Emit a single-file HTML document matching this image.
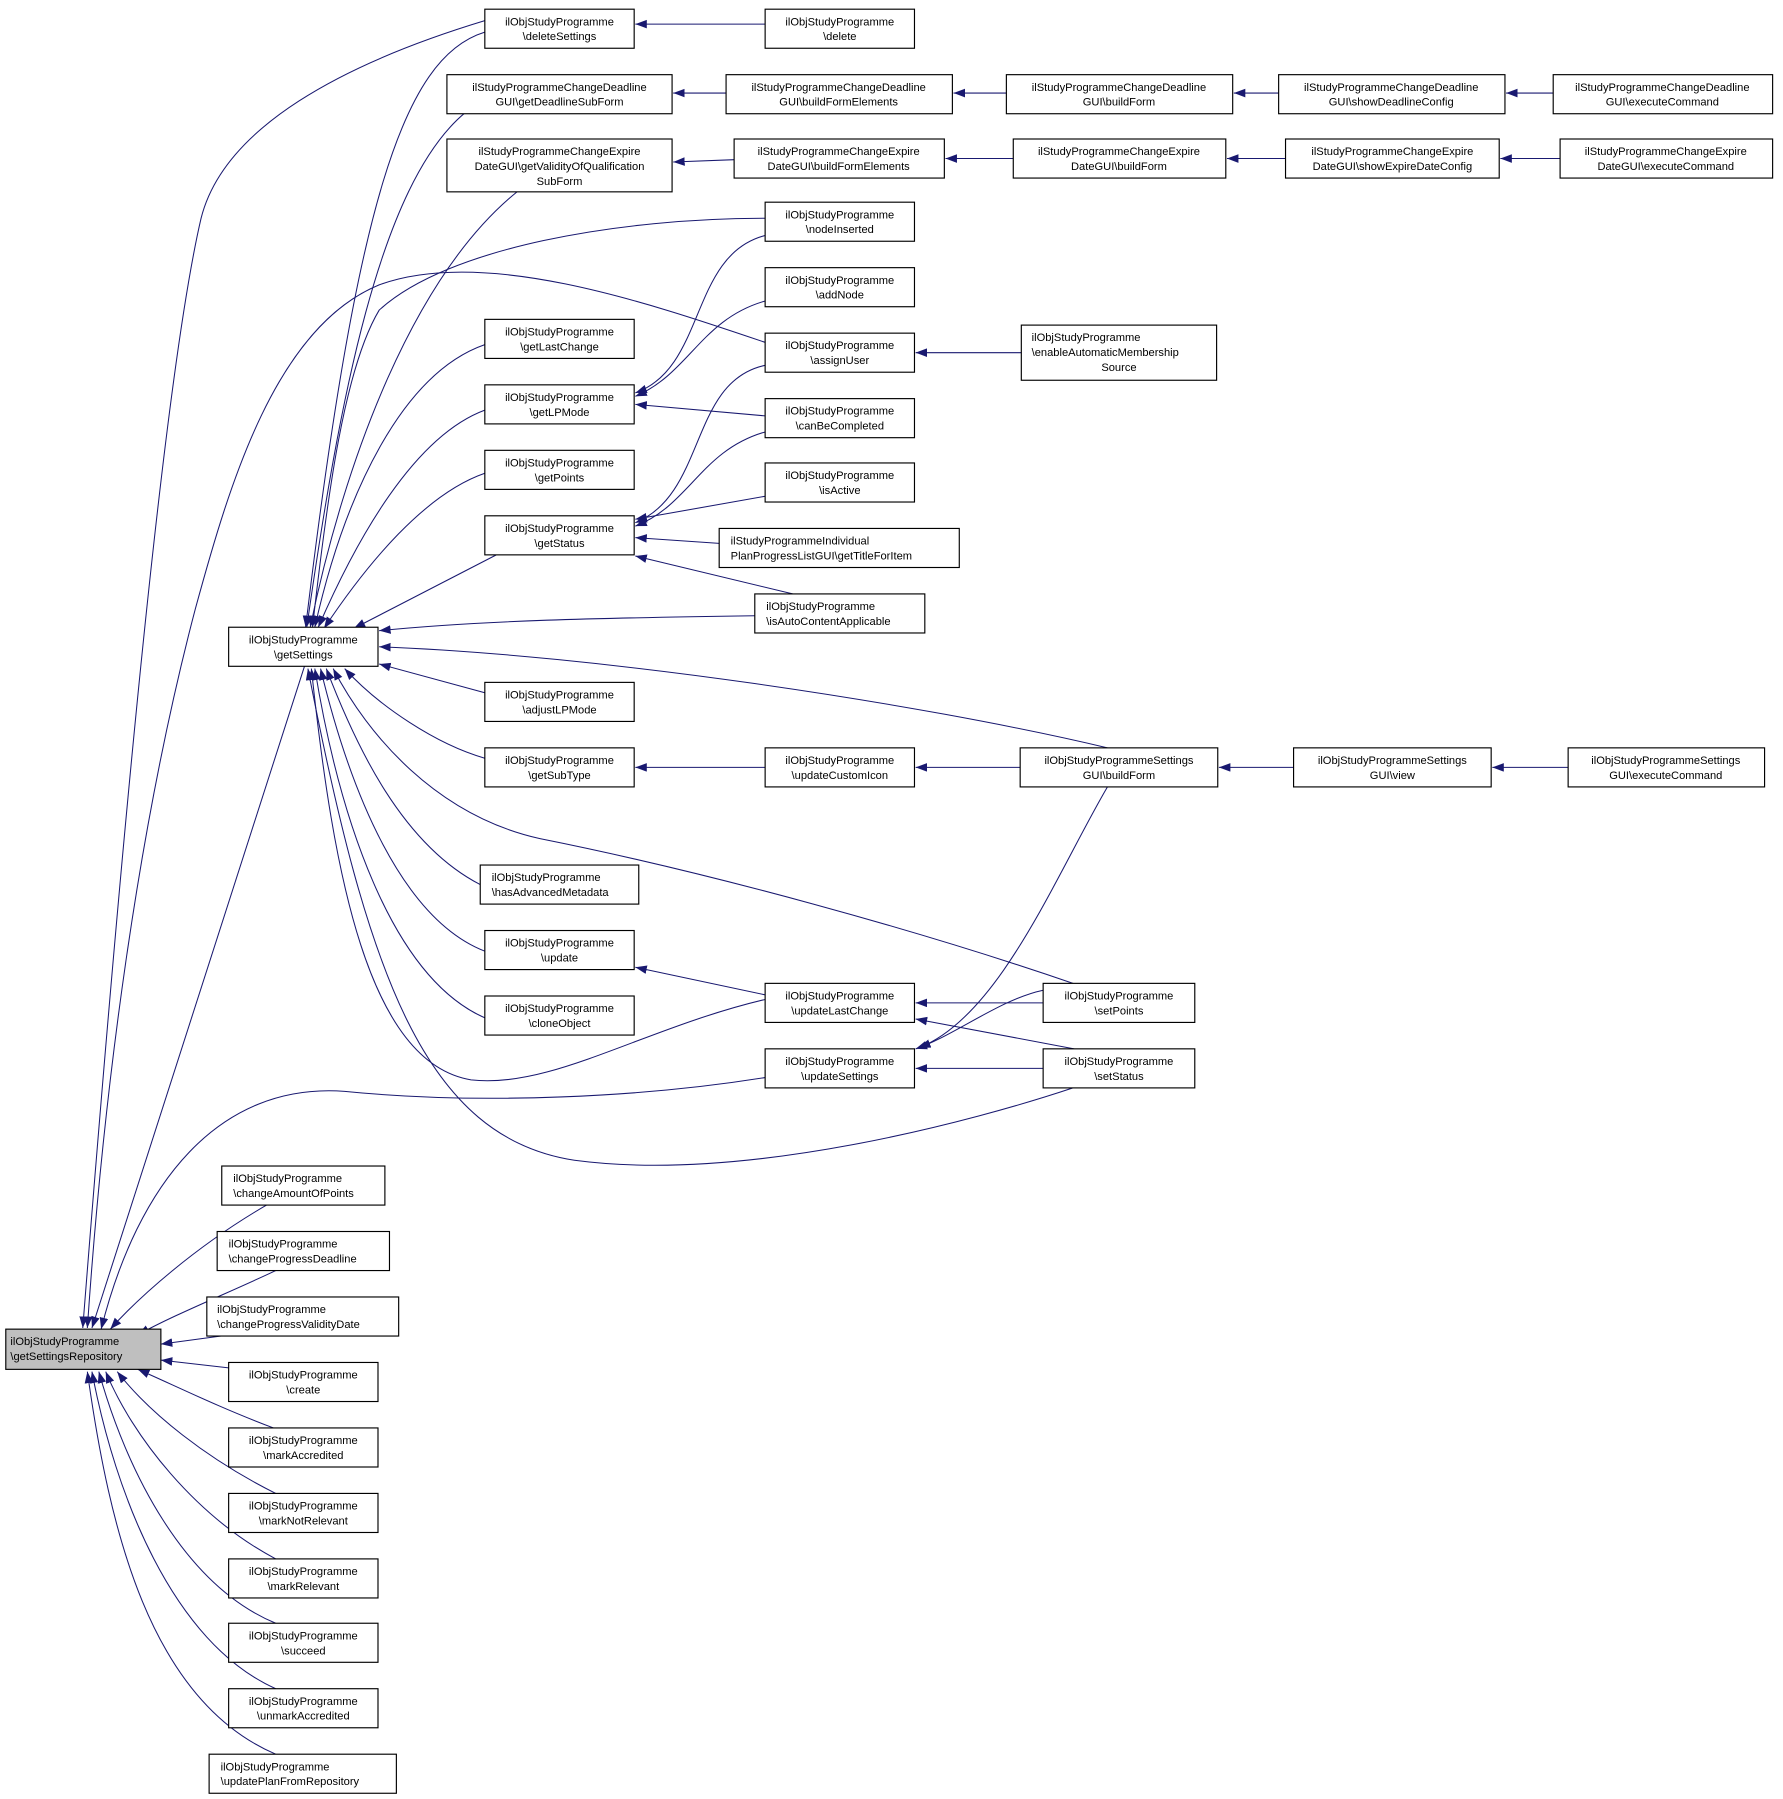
<!DOCTYPE html>
<html><head><meta charset="utf-8"><style>
html,body{margin:0;padding:0;background:#fff;}
svg{display:block;}
text{font-family:"Liberation Sans",sans-serif;font-size:9.7px;fill:#000;}
.b{fill:#fff;stroke:#000;stroke-width:1;}
.e{fill:none;stroke:#191970;stroke-width:0.9;}
</style></head><body>
<svg width="1783" height="1799" viewBox="0 0 1552 1566" xmlns="http://www.w3.org/2000/svg">
<defs><marker id="a" markerUnits="userSpaceOnUse" markerWidth="11" markerHeight="8" refX="10" refY="3.75" orient="auto"><path d="M0,0 L10,3.75 L0,7.5 z" fill="#191970"/></marker></defs>
<g class="e" marker-end="url(#a)">
<!-- to getSettingsRepository -->
<path d="M422,18 C300,55 195,110 175,190 C140,340 100,800 72,1156"/>
<path d="M666,298 C560,262 420,215 330,248 C240,285 200,420 170,530 C120,720 90,950 76,1156"/>
<path d="M265,580 L80,1156"/>
<path d="M666,938 C560,955 420,962 300,950 C190,942 120,1030 88,1157"/>
<path d="M232,1049 C170,1085 120,1130 96,1157"/>
<path d="M240,1106 C200,1125 150,1145 120,1162"/>
<path d="M207,1161 L140,1170"/>
<path d="M228,1194 L140,1184"/>
<path d="M238,1243 C190,1225 150,1205 120,1192"/>
<path d="M240,1300 C180,1270 130,1230 102,1194"/>
<path d="M240,1357 C170,1320 115,1250 92,1194"/>
<path d="M240,1413 C160,1380 110,1280 86,1194"/>
<path d="M240,1470 C150,1430 100,1300 80,1194"/>
<path d="M240,1527 C130,1480 95,1330 76,1194"/>
<!-- to getSettings -->
<path d="M422,28 C350,50 310,180 266,546"/>
<path d="M405,98 C330,160 295,350 267,546"/>
<path d="M450,167 C360,240 300,400 270,546"/>
<path d="M666,190 C540,190 390,215 330,270 C300,320 285,430 272,546"/>
<path d="M422,300 C350,325 300,430 274,546"/>
<path d="M422,357 C360,380 310,470 277,546"/>
<path d="M422,412 C370,430 320,490 282,547"/>
<path d="M432,483 L308,547"/>
<path d="M657,536 C520,538 420,540 330,549"/>
<path d="M964,651 C800,612 520,570 330,563"/>
<path d="M422,603 L330,578"/>
<path d="M422,660 C380,648 330,615 300,582"/>
<path d="M934,856 C800,810 620,760 470,730 C380,710 320,640 290,582"/>
<path d="M418,770 C350,735 310,650 284,582"/>
<path d="M422,828 C350,800 305,690 279,582"/>
<path d="M422,886 C340,850 295,710 274,582"/>
<path d="M666,870 C560,895 480,948 410,940 C320,925 290,760 271,582"/>
<path d="M934,947 C850,975 650,1030 500,1010 C370,990 320,850 268,582"/>
<!-- getLPMode -->
<path d="M666,205 C600,222 615,320 553,342"/>
<path d="M666,262 C610,278 600,325 553,345"/>
<path d="M666,362 L553,352"/>
<!-- getStatus -->
<path d="M666,318 C600,332 615,430 553,455"/>
<path d="M666,376 C610,392 600,440 553,458"/>
<path d="M666,432 L553,452"/>
<path d="M626,473 L553,468"/>
<path d="M690,517 L553,484"/>
<!-- others -->
<path d="M889,307 L797,307"/>
<path d="M666,21 L553,21"/>
<path d="M632,81 L586,81"/>
<path d="M876,81 L830,81"/>
<path d="M1113,81 L1074,81"/>
<path d="M1352,81 L1311,81"/>
<path d="M639,139 L586,141"/>
<path d="M882,138 L823,138"/>
<path d="M1119,138 L1068,138"/>
<path d="M1358,138 L1306,138"/>
<path d="M666,668 L553,668"/>
<path d="M888,668 L797,668"/>
<path d="M1126,668 L1061,668"/>
<path d="M1365,668 L1299,668"/>
<path d="M666,866 L553,842"/>
<path d="M908,873 L797,873"/>
<path d="M935,913 L797,887"/>
<path d="M908,862 C870,870 830,902 797,913"/>
<path d="M908,930 L797,930"/>
<path d="M964,685 C920,760 870,885 800,912"/>
</g>
<g>
<rect x="5" y="1157" width="135" height="35" fill="#bfbfbf" stroke="#000"/>
<text x="9" y="1171">ilObjStudyProgramme</text><text x="9" y="1184">\getSettingsRepository</text>

<rect class="b" x="199" y="546" width="130" height="34"/><text x="264" y="560" text-anchor="middle">ilObjStudyProgramme</text><text x="264" y="573" text-anchor="middle">\getSettings</text>

<rect class="b" x="193" y="1015" width="142" height="34"/><text x="203" y="1029">ilObjStudyProgramme</text><text x="203" y="1042">\changeAmountOfPoints</text>
<rect class="b" x="189" y="1072" width="150" height="34"/><text x="199" y="1086">ilObjStudyProgramme</text><text x="199" y="1099">\changeProgressDeadline</text>
<rect class="b" x="180" y="1129" width="167" height="34"/><text x="189" y="1143">ilObjStudyProgramme</text><text x="189" y="1156">\changeProgressValidityDate</text>
<rect class="b" x="199" y="1186" width="130" height="34"/><text x="264" y="1200" text-anchor="middle">ilObjStudyProgramme</text><text x="264" y="1213" text-anchor="middle">\create</text>
<rect class="b" x="199" y="1243" width="130" height="34"/><text x="264" y="1257" text-anchor="middle">ilObjStudyProgramme</text><text x="264" y="1270" text-anchor="middle">\markAccredited</text>
<rect class="b" x="199" y="1300" width="130" height="34"/><text x="264" y="1314" text-anchor="middle">ilObjStudyProgramme</text><text x="264" y="1327" text-anchor="middle">\markNotRelevant</text>
<rect class="b" x="199" y="1357" width="130" height="34"/><text x="264" y="1371" text-anchor="middle">ilObjStudyProgramme</text><text x="264" y="1384" text-anchor="middle">\markRelevant</text>
<rect class="b" x="199" y="1413" width="130" height="34"/><text x="264" y="1427" text-anchor="middle">ilObjStudyProgramme</text><text x="264" y="1440" text-anchor="middle">\succeed</text>
<rect class="b" x="199" y="1470" width="130" height="34"/><text x="264" y="1484" text-anchor="middle">ilObjStudyProgramme</text><text x="264" y="1497" text-anchor="middle">\unmarkAccredited</text>
<rect class="b" x="182" y="1527" width="163" height="34"/><text x="192" y="1541">ilObjStudyProgramme</text><text x="192" y="1554">\updatePlanFromRepository</text>

<rect class="b" x="422" y="8" width="130" height="34"/><text x="487" y="22" text-anchor="middle">ilObjStudyProgramme</text><text x="487" y="35" text-anchor="middle">\deleteSettings</text>
<rect class="b" x="389" y="65" width="196" height="34"/><text x="487" y="79" text-anchor="middle">ilStudyProgrammeChangeDeadline</text><text x="487" y="92" text-anchor="middle">GUI\getDeadlineSubForm</text>
<rect class="b" x="389" y="121" width="196" height="46"/><text x="487" y="135" text-anchor="middle">ilStudyProgrammeChangeExpire</text><text x="487" y="148" text-anchor="middle">DateGUI\getValidityOfQualification</text><text x="487" y="161" text-anchor="middle">SubForm</text>
<rect class="b" x="422" y="278" width="130" height="34"/><text x="487" y="292" text-anchor="middle">ilObjStudyProgramme</text><text x="487" y="305" text-anchor="middle">\getLastChange</text>
<rect class="b" x="422" y="335" width="130" height="34"/><text x="487" y="349" text-anchor="middle">ilObjStudyProgramme</text><text x="487" y="362" text-anchor="middle">\getLPMode</text>
<rect class="b" x="422" y="392" width="130" height="34"/><text x="487" y="406" text-anchor="middle">ilObjStudyProgramme</text><text x="487" y="419" text-anchor="middle">\getPoints</text>
<rect class="b" x="422" y="449" width="130" height="34"/><text x="487" y="463" text-anchor="middle">ilObjStudyProgramme</text><text x="487" y="476" text-anchor="middle">\getStatus</text>
<rect class="b" x="422" y="594" width="130" height="34"/><text x="487" y="608" text-anchor="middle">ilObjStudyProgramme</text><text x="487" y="621" text-anchor="middle">\adjustLPMode</text>
<rect class="b" x="422" y="651" width="130" height="34"/><text x="487" y="665" text-anchor="middle">ilObjStudyProgramme</text><text x="487" y="678" text-anchor="middle">\getSubType</text>
<rect class="b" x="418" y="753" width="138" height="34"/><text x="428" y="767">ilObjStudyProgramme</text><text x="428" y="780">\hasAdvancedMetadata</text>
<rect class="b" x="422" y="810" width="130" height="34"/><text x="487" y="824" text-anchor="middle">ilObjStudyProgramme</text><text x="487" y="837" text-anchor="middle">\update</text>
<rect class="b" x="422" y="867" width="130" height="34"/><text x="487" y="881" text-anchor="middle">ilObjStudyProgramme</text><text x="487" y="894" text-anchor="middle">\cloneObject</text>

<rect class="b" x="666" y="8" width="130" height="34"/><text x="731" y="22" text-anchor="middle">ilObjStudyProgramme</text><text x="731" y="35" text-anchor="middle">\delete</text>
<rect class="b" x="632" y="65" width="197" height="34"/><text x="730" y="79" text-anchor="middle">ilStudyProgrammeChangeDeadline</text><text x="730" y="92" text-anchor="middle">GUI\buildFormElements</text>
<rect class="b" x="639" y="121" width="183" height="34"/><text x="730" y="135" text-anchor="middle">ilStudyProgrammeChangeExpire</text><text x="730" y="148" text-anchor="middle">DateGUI\buildFormElements</text>
<rect class="b" x="666" y="176" width="130" height="34"/><text x="731" y="190" text-anchor="middle">ilObjStudyProgramme</text><text x="731" y="203" text-anchor="middle">\nodeInserted</text>
<rect class="b" x="666" y="233" width="130" height="34"/><text x="731" y="247" text-anchor="middle">ilObjStudyProgramme</text><text x="731" y="260" text-anchor="middle">\addNode</text>
<rect class="b" x="666" y="290" width="130" height="34"/><text x="731" y="304" text-anchor="middle">ilObjStudyProgramme</text><text x="731" y="317" text-anchor="middle">\assignUser</text>
<rect class="b" x="666" y="347" width="130" height="34"/><text x="731" y="361" text-anchor="middle">ilObjStudyProgramme</text><text x="731" y="374" text-anchor="middle">\canBeCompleted</text>
<rect class="b" x="666" y="403" width="130" height="34"/><text x="731" y="417" text-anchor="middle">ilObjStudyProgramme</text><text x="731" y="430" text-anchor="middle">\isActive</text>
<rect class="b" x="626" y="460" width="209" height="34"/><text x="636" y="474">ilStudyProgrammeIndividual</text><text x="636" y="487">PlanProgressListGUI\getTitleForItem</text>
<rect class="b" x="657" y="517" width="148" height="34"/><text x="667" y="531">ilObjStudyProgramme</text><text x="667" y="544">\isAutoContentApplicable</text>
<rect class="b" x="666" y="651" width="130" height="34"/><text x="731" y="665" text-anchor="middle">ilObjStudyProgramme</text><text x="731" y="678" text-anchor="middle">\updateCustomIcon</text>
<rect class="b" x="666" y="856" width="130" height="34"/><text x="731" y="870" text-anchor="middle">ilObjStudyProgramme</text><text x="731" y="883" text-anchor="middle">\updateLastChange</text>
<rect class="b" x="666" y="913" width="130" height="34"/><text x="731" y="927" text-anchor="middle">ilObjStudyProgramme</text><text x="731" y="940" text-anchor="middle">\updateSettings</text>

<rect class="b" x="876" y="65" width="197" height="34"/><text x="974" y="79" text-anchor="middle">ilStudyProgrammeChangeDeadline</text><text x="974" y="92" text-anchor="middle">GUI\buildForm</text>
<rect class="b" x="882" y="121" width="185" height="34"/><text x="974" y="135" text-anchor="middle">ilStudyProgrammeChangeExpire</text><text x="974" y="148" text-anchor="middle">DateGUI\buildForm</text>
<rect class="b" x="889" y="283" width="170" height="48"/><text x="898" y="297">ilObjStudyProgramme</text><text x="898" y="310">\enableAutomaticMembership</text><text x="974" y="323" text-anchor="middle">Source</text>
<rect class="b" x="888" y="651" width="172" height="34"/><text x="974" y="665" text-anchor="middle">ilObjStudyProgrammeSettings</text><text x="974" y="678" text-anchor="middle">GUI\buildForm</text>
<rect class="b" x="908" y="856" width="132" height="34"/><text x="974" y="870" text-anchor="middle">ilObjStudyProgramme</text><text x="974" y="883" text-anchor="middle">\setPoints</text>
<rect class="b" x="908" y="913" width="132" height="34"/><text x="974" y="927" text-anchor="middle">ilObjStudyProgramme</text><text x="974" y="940" text-anchor="middle">\setStatus</text>

<rect class="b" x="1113" y="65" width="197" height="34"/><text x="1211" y="79" text-anchor="middle">ilStudyProgrammeChangeDeadline</text><text x="1211" y="92" text-anchor="middle">GUI\showDeadlineConfig</text>
<rect class="b" x="1119" y="121" width="186" height="34"/><text x="1212" y="135" text-anchor="middle">ilStudyProgrammeChangeExpire</text><text x="1212" y="148" text-anchor="middle">DateGUI\showExpireDateConfig</text>
<rect class="b" x="1126" y="651" width="172" height="34"/><text x="1212" y="665" text-anchor="middle">ilObjStudyProgrammeSettings</text><text x="1212" y="678" text-anchor="middle">GUI\view</text>

<rect class="b" x="1352" y="65" width="191" height="34"/><text x="1447" y="79" text-anchor="middle">ilStudyProgrammeChangeDeadline</text><text x="1447" y="92" text-anchor="middle">GUI\executeCommand</text>
<rect class="b" x="1358" y="121" width="185" height="34"/><text x="1450" y="135" text-anchor="middle">ilStudyProgrammeChangeExpire</text><text x="1450" y="148" text-anchor="middle">DateGUI\executeCommand</text>
<rect class="b" x="1365" y="651" width="171" height="34"/><text x="1450" y="665" text-anchor="middle">ilObjStudyProgrammeSettings</text><text x="1450" y="678" text-anchor="middle">GUI\executeCommand</text>
</g>
</svg>
</body></html>
